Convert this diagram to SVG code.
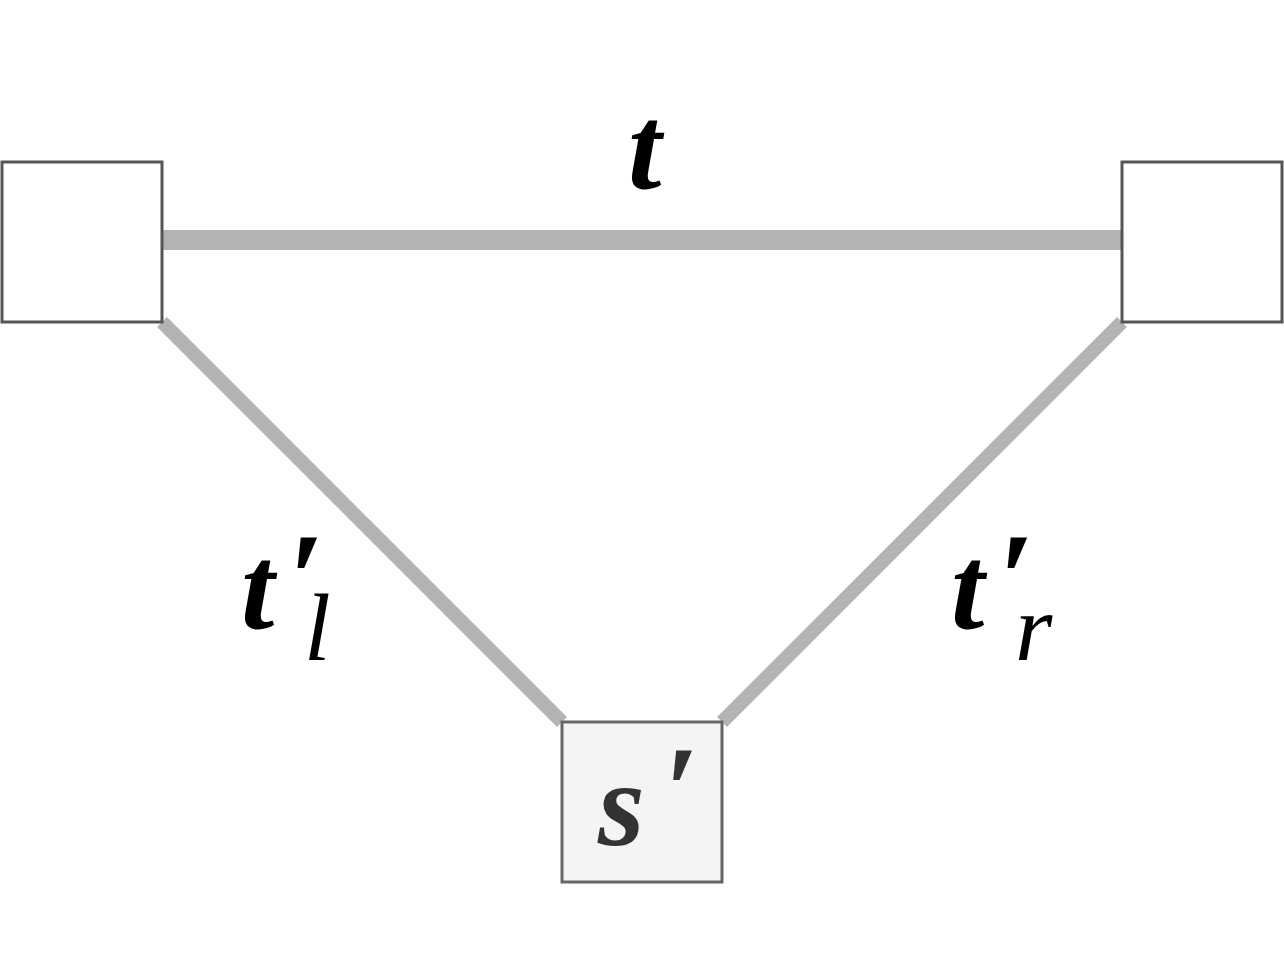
<svg xmlns="http://www.w3.org/2000/svg" width="1284" height="964" viewBox="0 0 1284 964">
<style>
.box{fill:#ffffff;stroke:#555555;stroke-width:3}
.boxs{fill:#f4f4f4;stroke:#666666;stroke-width:3}
.edge{stroke:#b3b3b3;fill:none}
.lbl{font-family:"Liberation Serif",serif;font-style:italic;font-weight:bold;fill:#000000}
.sub{font-family:"Liberation Serif",serif;font-style:italic;font-weight:normal;fill:#000000}
</style>
<rect width="1284" height="964" fill="#ffffff"/>
<g id="connectors">
<line class="edge" x1="162" y1="240" x2="1122" y2="240" stroke-width="20"/>
<line class="edge" x1="162" y1="322" x2="562" y2="722" stroke-width="14"/>
<line class="edge" x1="1122" y1="322" x2="722" y2="722" stroke-width="14"/>
</g>
<g id="node-left"><rect class="box" x="2" y="162" width="160" height="160"/></g>
<g id="node-right"><rect class="box" x="1122" y="162" width="160" height="160"/></g>
<g id="node-s"><rect class="boxs" x="562" y="722" width="160" height="160"/>
<text class="lbl" x="598" y="845" font-size="120" style="fill:#333333">s</text>
<text class="lbl" x="663" y="833" font-size="125" style="fill:#333333">′</text></g>
<g id="label-t"><text class="lbl" x="628" y="188" font-size="120">t</text></g>
<g id="label-tl"><text class="lbl" x="241" y="628" font-size="120">t</text>
<text class="lbl" x="287" y="622" font-size="130">′</text>
<text class="sub" x="304" y="660" font-size="96">l</text></g>
<g id="label-tr"><text class="lbl" x="951" y="628" font-size="120">t</text>
<text class="lbl" x="997" y="622" font-size="130">′</text>
<text class="sub" x="1015" y="660" font-size="96">r</text></g>
</svg>
